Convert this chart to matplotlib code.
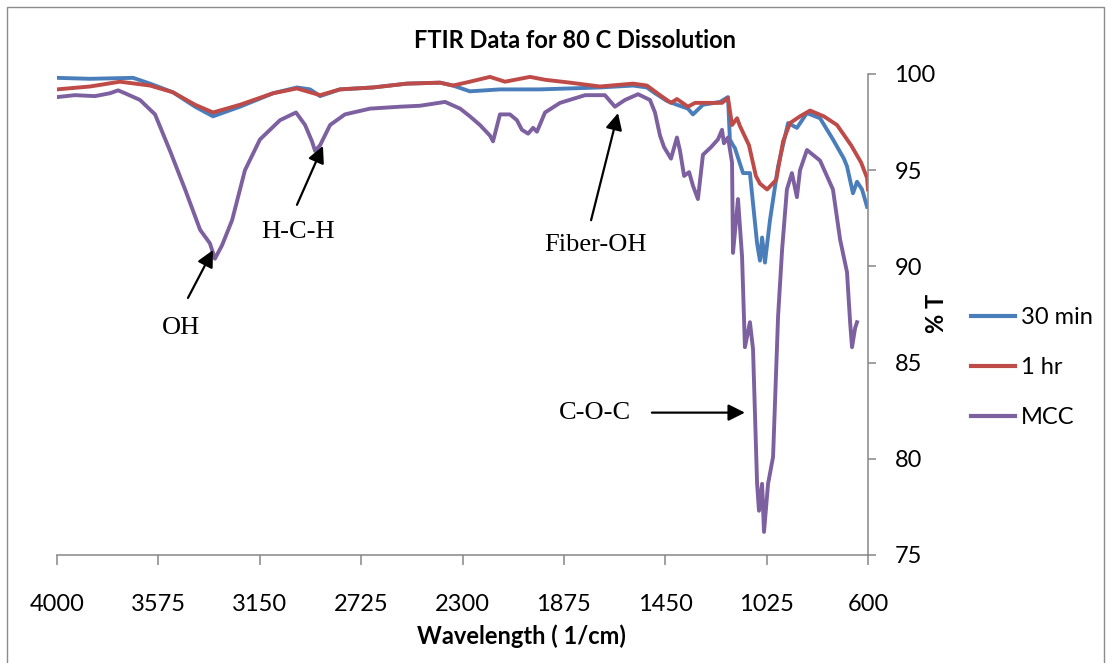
import matplotlib
matplotlib.use("Agg")
import matplotlib.pyplot as plt
from matplotlib.patches import Rectangle
from matplotlib import font_manager as fm

# ---------------- data ----------------
mcc_wn = [4000, 3925, 3841, 3778, 3744, 3715, 3652, 3589, 3526, 3463, 3400, 3359, 3338, 3308,
          3266, 3212, 3149, 3065, 2998, 2960, 2931, 2918, 2897, 2855, 2793, 2688, 2562, 2478,
          2373, 2310, 2269, 2227, 2185, 2172, 2143, 2101, 2072, 2051, 2025, 2004, 1988, 1954,
          1891, 1786, 1703, 1661, 1619, 1564, 1514, 1493, 1472, 1455, 1426, 1401, 1388, 1371,
          1350, 1334, 1313, 1292, 1258, 1229, 1212, 1204, 1187, 1170, 1166, 1145, 1128, 1116,
          1095, 1082, 1065, 1057, 1044, 1036, 1019, 998, 977, 960, 940, 919, 898, 885, 856,
          801, 747, 717, 688, 675, 667, 654, 646]
mcc_t = [98.8, 98.9, 98.85, 99.0, 99.15, 99.0, 98.65, 97.9, 96.0, 94.0, 91.9, 91.2, 90.4, 91.1,
         92.4, 95.0, 96.6, 97.6, 98.0, 97.35, 96.5, 96.0, 96.3, 97.35, 97.9, 98.2, 98.3, 98.35,
         98.55, 98.2, 97.8, 97.35, 96.8, 96.5, 97.9, 97.9, 97.6, 97.1, 96.9, 97.2, 97.0, 98.0,
         98.5, 98.9, 98.9, 98.3, 98.65, 98.95, 98.65, 98.0, 96.8, 96.2, 95.6, 96.7, 96.0, 94.7,
         94.9, 94.2, 93.5, 95.8, 96.2, 96.6, 97.1, 96.4, 96.7, 95.4, 90.7, 93.5, 90.5, 85.8,
         87.1, 85.7, 78.7, 77.3, 78.7, 76.2, 78.7, 80.1, 87.4, 90.9, 94.0, 94.85, 93.6, 95.0, 96.05,
         95.5, 94.0, 91.4, 89.7, 87.1, 85.8, 86.8, 87.1]

min30_wn = [4000, 3862, 3681, 3610, 3514, 3421, 3346, 3233, 3094, 2994, 2939, 2897, 2814, 2675,
            2533, 2394, 2340, 2269, 2143, 1975, 1724, 1585, 1527, 1493, 1443, 1401, 1355, 1334,
            1292, 1220, 1187, 1179, 1166, 1158, 1124, 1095, 1065, 1053, 1044, 1032, 1011, 977,
            935, 898, 856, 801, 747, 701, 688, 663, 646, 625, 604]
min30_t = [99.8, 99.75, 99.8, 99.5, 99.05, 98.3, 97.8, 98.3, 99.0, 99.3, 99.2, 98.85, 99.2, 99.3,
           99.5, 99.55, 99.4, 99.1, 99.2, 99.2, 99.3, 99.4, 99.3, 99.0, 98.6, 98.4, 98.2, 97.9,
           98.4, 98.55, 98.8, 96.6, 96.3, 96.15, 94.85, 94.85, 91.2, 90.3, 91.5, 90.2, 92.4, 95.2,
           97.45, 97.2, 97.97, 97.7, 96.6, 95.6, 95.2, 93.8, 94.4, 94.0, 93.1]

hr1_wn = [4000, 3862, 3736, 3610, 3514, 3421, 3346, 3233, 3094, 2994, 2897, 2814, 2675, 2533,
          2394, 2340, 2269, 2185, 2122, 2017, 1954, 1849, 1724, 1585, 1527, 1472, 1426, 1401,
          1355, 1325, 1292, 1212, 1187, 1170, 1149, 1137, 1099, 1070, 1053, 1023, 985, 956,
          927, 885, 843, 785, 730, 671, 629, 604, 600]
hr1_t = [99.2, 99.35, 99.6, 99.4, 99.05, 98.4, 98.0, 98.4, 99.0, 99.25, 98.9, 99.2, 99.3, 99.5,
         99.55, 99.4, 99.6, 99.85, 99.6, 99.85, 99.7, 99.55, 99.35, 99.5, 99.4, 98.9, 98.5, 98.7,
         98.3, 98.5, 98.5, 98.5, 98.75, 97.35, 97.7, 97.3, 96.3, 94.7, 94.3, 94.0, 94.5, 96.5,
         97.45, 97.8, 98.1, 97.8, 97.35, 96.3, 95.4, 94.6, 94.0]

series_labels = ["30 min", "1 hr", "MCC"]
x_ticks = [4000, 3575, 3150, 2725, 2300, 1875, 1450, 1025, 600]
y_ticks = [75, 80, 85, 90, 95, 100]

annotations = [  # label, arrow tip (wn, %T), arrow tail, text centre
    ("OH", (3346, 90.85), (3451, 88.36), (3480, 86.8)),
    ("H-C-H", (2885, 96.26), (2994, 93.2), (2990, 91.8)),
    ("Fiber-OH", (1648, 97.97), (1761, 92.4), (1744, 91.1)),
    ("C-O-C", (1116, 82.4), (1506, 82.4), (1744, 82.4)),
]

# ---------------- style ----------------
c_blue = "#4A7EBB"
c_red = "#BE4B48"
c_purple = "#7D60A0"
axis_gray = "#868686"

ttf = fm.fontManager.ttflist
names = {f.name for f in ttf}


def has_bold(name):
    for f in ttf:
        if f.name == name:
            w = f.weight
            if isinstance(w, str):
                if "bold" in w.lower() or w.lower() in ("heavy", "black"):
                    return True
            elif w >= 600:
                return True
    return False


if "Liberation Sans Narrow" in names:
    sans = ["Liberation Sans Narrow", "DejaVu Sans"]
    fs = 20
elif "Lato" in names:
    sans = ["Lato", "DejaVu Sans"]
    fs = 17
else:
    sans = ["DejaVu Sans"]
    fs = 16
bold_sans = sans
if not has_bold(sans[0]):
    for cand in ["Open Sans", "Noto Sans", "Roboto", "Liberation Sans", "DejaVu Sans"]:
        if cand in names and has_bold(cand):
            bold_sans = [cand, "DejaVu Sans"]
            break
bfs = fs if bold_sans == sans else fs - 1
serif = ["Liberation Serif", "DejaVu Serif"]

W, H = 1112, 663
fig = plt.figure(figsize=(W / 100, H / 100), dpi=100)
fig.patch.set_facecolor("white")
fig.patches.append(Rectangle((7 / W, -0.05), (1104 - 7) / W, 1.05 - 7 / H,
                             transform=fig.transFigure, fill=False,
                             edgecolor="#8c8c8c", linewidth=1.0))

ax = fig.add_axes([57 / W, 1 - 555 / H, (868 - 57) / W, (555 - 74) / H])
lw = 2.8
ax.plot(min30_wn, min30_t, color=c_blue, lw=lw, label=series_labels[0], solid_joinstyle="round")
ax.plot(hr1_wn, hr1_t, color=c_red, lw=lw, label=series_labels[1], solid_joinstyle="round")
ax.plot(mcc_wn, mcc_t, color=c_purple, lw=lw, label=series_labels[2], solid_joinstyle="round")

ax.set_xlim(4000, 600)
ax.set_ylim(75, 100)
ax.set_xticks(x_ticks)
ax.set_yticks(y_ticks)
ax.yaxis.tick_right()
for s in ["top", "left"]:
    ax.spines[s].set_visible(False)
for s in ["bottom", "right"]:
    ax.spines[s].set_color(axis_gray)
    ax.spines[s].set_linewidth(1.1)
ax.tick_params(axis="x", direction="out", length=7, width=1.1, color=axis_gray, pad=21)
ax.tick_params(axis="y", direction="out", length=6, width=1.1, color=axis_gray, pad=13)
for lab in ax.get_xticklabels() + ax.get_yticklabels():
    lab.set_fontfamily(sans)
    lab.set_fontsize(fs)

for label, tip, tail, txt in annotations:
    ax.annotate("", xy=tip, xytext=tail,
                arrowprops=dict(arrowstyle="-|>,head_length=1.0,head_width=0.5",
                                color="black", lw=1.6, shrinkA=0, shrinkB=0))
    ax.text(txt[0], txt[1], label, family=serif, fontsize=19, ha="center", va="center")

fig.text(575 / W, 1 - 40 / H, "FTIR Data for 80 C Dissolution", family=bold_sans, fontsize=bfs,
         fontweight="bold", ha="center", va="center")
fig.text(521 / W, 1 - 636 / H, "Wavelength ( 1/cm)", family=bold_sans, fontsize=bfs,
         fontweight="bold", ha="center", va="center")
fig.text(937 / W, 1 - 313 / H, "% T", family=bold_sans, fontsize=bfs, fontweight="bold",
         ha="center", va="center", rotation=90)

leg = fig.legend(loc="upper left", bbox_to_anchor=(971 / W, 1 - 307 / H), frameon=False,
                 prop={"family": sans, "size": fs}, handlelength=1.85, handletextpad=0.25,
                 labelspacing=1.23, borderaxespad=0, borderpad=0)
for h in leg.get_lines():
    h.set_linewidth(3.0)

fig.savefig("out.png", dpi=100)
